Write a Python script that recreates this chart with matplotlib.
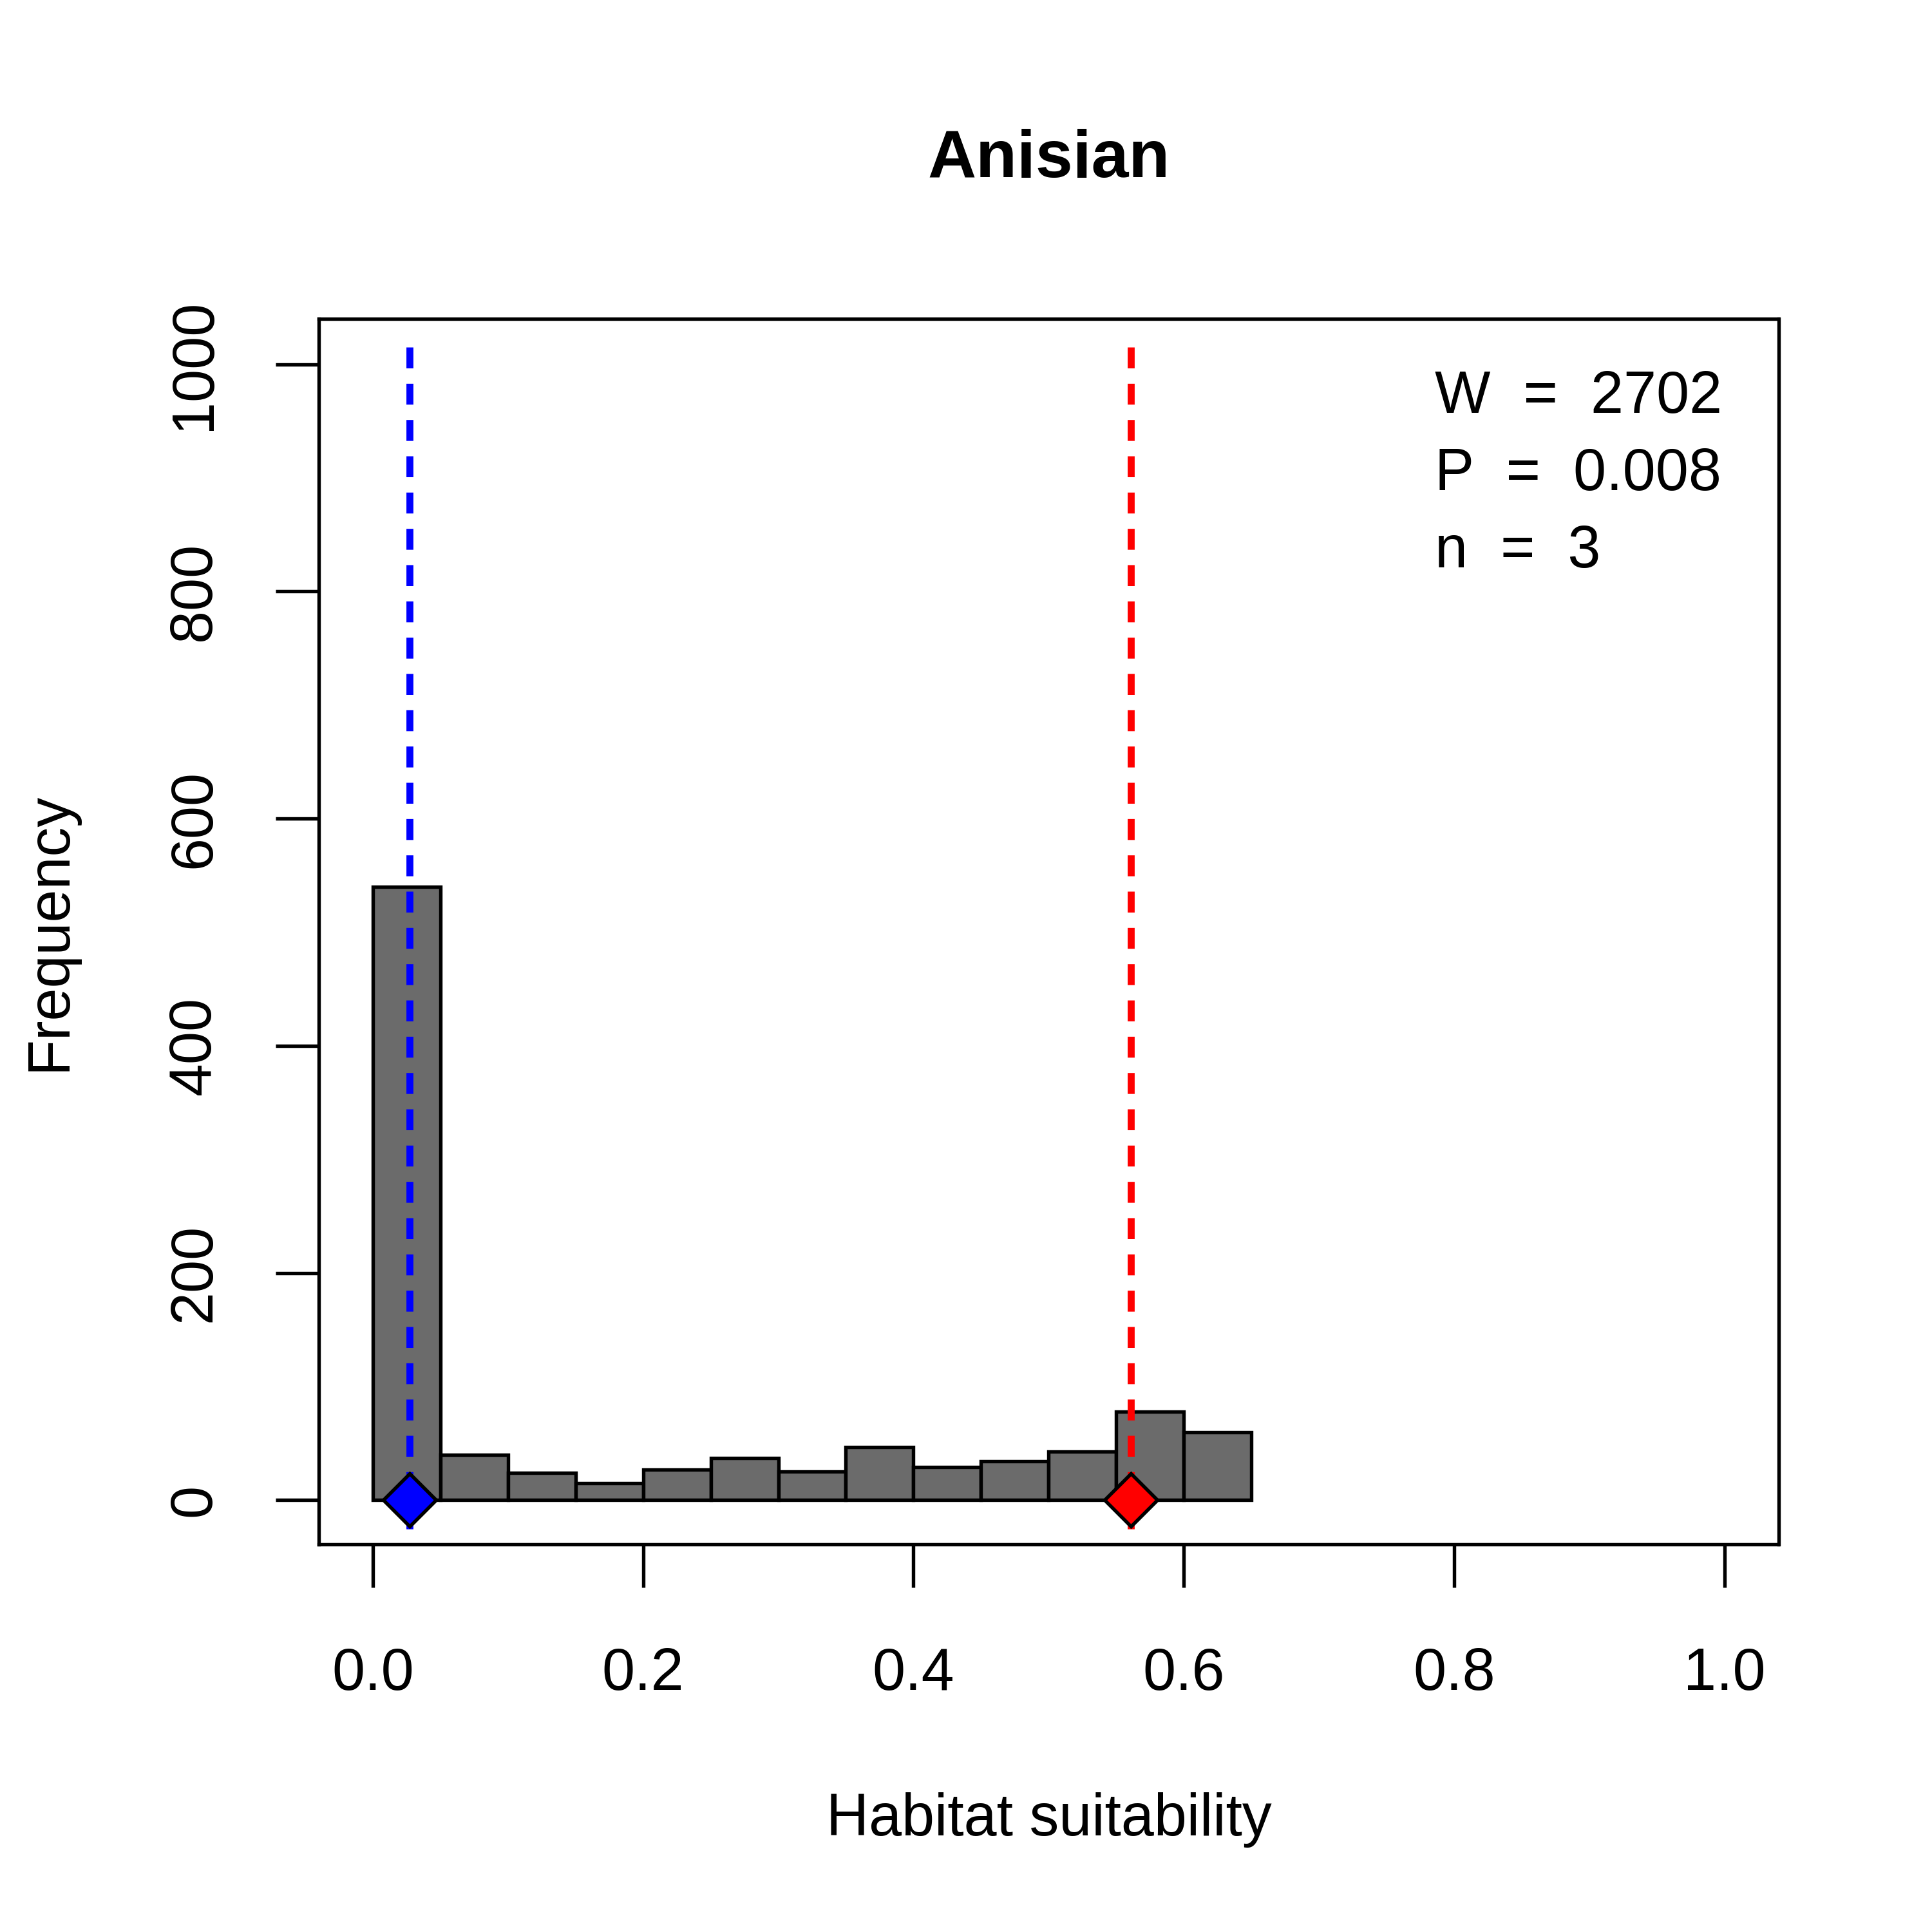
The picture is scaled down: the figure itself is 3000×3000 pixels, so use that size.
import matplotlib.pyplot as plt
import numpy as np

plt.rcParams['font.family'] = ['Liberation Sans', 'DejaVu Sans']

title = "Anisian"
bin_edges = [0.0, 0.05, 0.10, 0.15, 0.20, 0.25, 0.30, 0.35, 0.40, 0.45, 0.50, 0.55, 0.60, 0.65]
counts = [540, 40, 24, 15, 27, 37, 25, 47, 29, 34, 43, 78, 60]
blue_x = 0.027
red_x = 0.561
stats = ["W  =  2702", "P  =  0.008", "n  =  3"]

fig = plt.figure(figsize=(10, 10), dpi=300)
ax = fig.add_axes([0.165, 0.2006, 0.7555, 0.6344])

ax.bar(bin_edges[:-1], counts, width=np.diff(bin_edges), align='edge',
       color='#6b6b6b', edgecolor='black', linewidth=1.3, zorder=2)

ax.plot([blue_x, blue_x], [1015, -39], color='blue', linestyle=(0, (3, 2.2)), linewidth=2.6, zorder=3)
ax.plot([red_x, red_x], [1015, -39], color='red', linestyle=(0, (3, 2.2)), linewidth=2.6, zorder=3)
ax.plot(blue_x, 0, marker='D', markersize=14, color='blue', markeredgecolor='black', markeredgewidth=1.3, zorder=4, clip_on=False)
ax.plot(red_x, 0, marker='D', markersize=14, color='red', markeredgecolor='black', markeredgewidth=1.3, zorder=4, clip_on=False)

for i, s in enumerate(stats):
    ax.text(0.786, 971 - i * 68, s, fontsize=22, ha='left', va='center')

ax.set_xlim(-0.04, 1.04)
ax.set_ylim(-39, 1040)
ax.set_xticks([0.0, 0.2, 0.4, 0.6, 0.8, 1.0])
ax.set_xticklabels(["0.0", "0.2", "0.4", "0.6", "0.8", "1.0"])
ax.set_yticks([0, 200, 400, 600, 800, 1000])
ax.set_yticklabels(["0", "200", "400", "600", "800", "1000"], rotation=90, va='center')
ax.tick_params(axis='both', length=16, width=1.3, labelsize=22, direction='out')
ax.tick_params(axis='x', pad=22)
ax.tick_params(axis='y', pad=20)
for sp in ax.spines.values():
    sp.set_linewidth(1.3)

fig.text(0.543, 0.917, title, fontsize=25, fontweight='bold', ha='center', va='center')
fig.text(0.543, 0.058, "Habitat suitability", fontsize=22, ha='center', va='center')
fig.text(0.026, 0.518, "Frequency", fontsize=22, ha='center', va='center', rotation=90)

fig.savefig("out.png", dpi=300)
